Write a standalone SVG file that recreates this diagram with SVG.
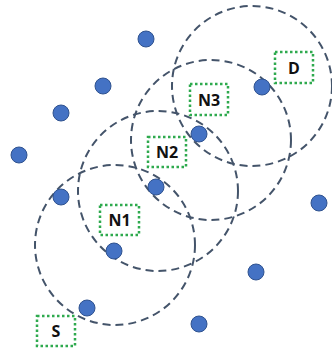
<svg xmlns="http://www.w3.org/2000/svg" width="332" height="354" viewBox="0 0 332 354">
<style>
.rng{fill:none;stroke:#44546A;stroke-width:2;stroke-dasharray:8 5}
.dot{fill:#4472C4;stroke:#2F528F;stroke-width:1}
.box{fill:#fff;stroke:#2EAA4E;stroke-width:2.5;stroke-dasharray:2.5 2.5}
.lbl{font-family:"Open Sans","Liberation Sans",sans-serif;font-weight:bold;font-size:16px;fill:#111;text-anchor:middle}
</style>
<rect width="332" height="354" fill="#fff"/>
<g id="connectors">
<circle class="rng" cx="115" cy="245" r="80"/>
<circle class="rng" cx="158" cy="191" r="80"/>
<circle class="rng" cx="211" cy="140" r="80"/>
<circle class="rng" cx="252" cy="86" r="80"/>
</g>
<g id="dots">
<circle class="dot" cx="146" cy="39" r="8"/>
<circle class="dot" cx="103" cy="86" r="8"/>
<circle class="dot" cx="61" cy="113" r="8"/>
<circle class="dot" cx="19" cy="155" r="8"/>
<circle class="dot" cx="199" cy="134" r="8"/>
<circle class="dot" cx="262" cy="87" r="8"/>
<circle class="dot" cx="61" cy="197" r="8"/>
<circle class="dot" cx="156" cy="187" r="8"/>
<circle class="dot" cx="319" cy="203" r="8"/>
<circle class="dot" cx="114" cy="251" r="8"/>
<circle class="dot" cx="256" cy="272" r="8"/>
<circle class="dot" cx="87" cy="308" r="8"/>
<circle class="dot" cx="199" cy="324" r="8"/>
</g>
<g id="D"><rect class="box" x="275" y="52" width="38" height="31"/><text class="lbl" x="294" y="73.5">D</text></g>
<g id="N3"><rect class="box" x="190" y="84" width="38" height="31"/><text class="lbl" x="209" y="105.5">N3</text></g>
<g id="N2"><rect class="box" x="148" y="137" width="38" height="30"/><text class="lbl" x="167" y="158">N2</text></g>
<g id="N1"><rect class="box" x="100" y="205" width="39" height="30"/><text class="lbl" x="119.5" y="226">N1</text></g>
<g id="S"><rect class="box" x="37" y="316" width="38" height="30"/><text class="lbl" x="56" y="337">S</text></g>
</svg>
